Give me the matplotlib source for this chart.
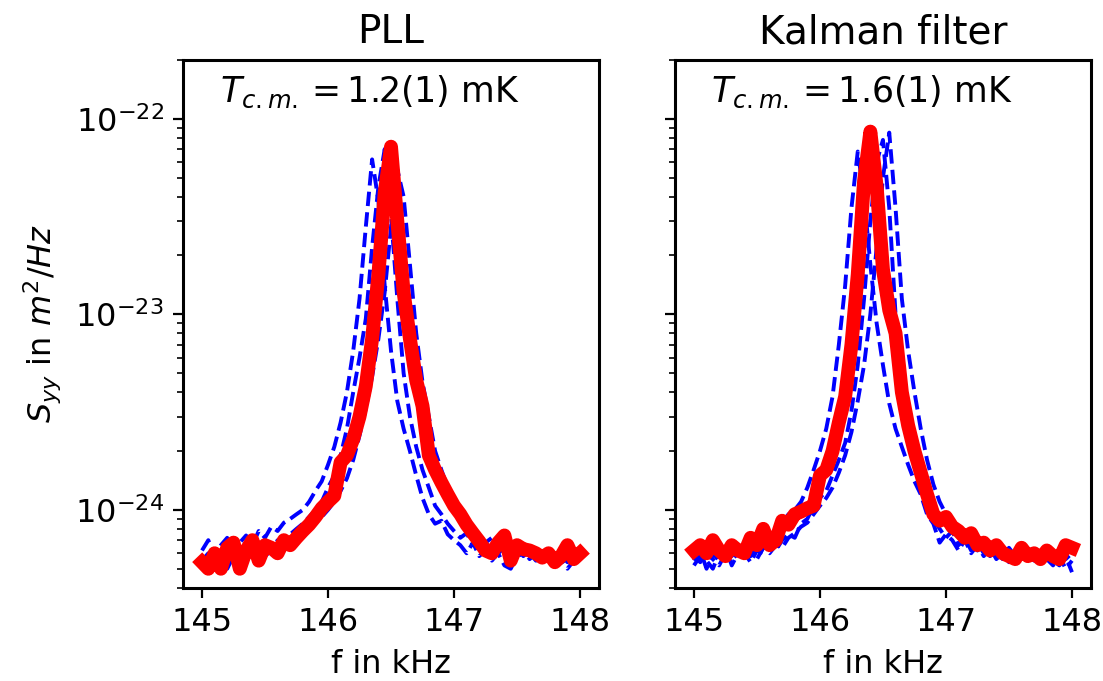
import matplotlib
matplotlib.use("Agg")
import matplotlib.pyplot as plt
import numpy as np

# frequency grid in kHz (same for every trace)
freq = np.round(np.arange(145.0, 148.001, 0.05), 2)

# spectra in units of 1e-24 m^2/Hz
# PLL panel
pll_red = [0.54, 0.50, 0.60, 0.50, 0.64, 0.68, 0.50, 0.62, 0.70, 0.55,
           0.66, 0.64, 0.60, 0.70, 0.66, 0.72, 0.78, 0.84, 0.92, 1.02,
           1.10, 1.18, 1.75, 1.90, 2.30, 3.00, 4.30, 7.50, 16.0, 42.0,
           72.0, 30.0, 13.0, 7.50, 4.60, 3.40, 1.90, 1.60, 1.38, 1.20,
           1.05, 0.95, 0.84, 0.76, 0.69, 0.62, 0.60, 0.68, 0.74, 0.55,
           0.66, 0.63, 0.62, 0.60, 0.57, 0.60, 0.54, 0.58, 0.66, 0.56,
           0.60]
pll_a = [0.62, 0.70, 0.58, 0.66, 0.72, 0.60, 0.68, 0.74, 0.66, 0.78,
         0.72, 0.82, 0.78, 0.86, 0.90, 0.95, 1.00, 1.10, 1.25, 1.40,
         1.70, 2.10, 2.80, 4.00, 6.50, 12.0, 28.0, 62.0, 38.0, 14.0,
         6.50, 3.60, 2.60, 2.00, 1.50, 1.15, 0.95, 0.85, 0.88, 0.75,
         0.70, 0.66, 0.60, 0.68, 0.58, 0.62, 0.55, 0.60, 0.52, 0.50,
         0.58, 0.62, 0.56, 0.60, 0.54, 0.58, 0.52, 0.56, 0.50, 0.55,
         0.52]
pll_b = [0.55, 0.60, 0.52, 0.58, 0.55, 0.62, 0.56, 0.60, 0.64, 0.58,
         0.66, 0.62, 0.70, 0.68, 0.75, 0.80, 0.85, 0.92, 1.00, 1.10,
         1.30, 1.50, 1.90, 2.60, 4.00, 6.00, 9.50, 22.0, 45.0, 70.0,
         32.0, 12.0, 5.00, 3.00, 2.10, 1.60, 1.30, 1.05, 0.95, 0.85,
         0.78, 0.72, 0.76, 0.66, 0.70, 0.62, 0.66, 0.60, 0.64, 0.58,
         0.62, 0.57, 0.60, 0.55, 0.60, 0.56, 0.60, 0.54, 0.58, 0.55,
         0.58]
pll_c = [0.58, 0.52, 0.60, 0.55, 0.50, 0.58, 0.62, 0.55, 0.60, 0.64,
         0.58, 0.62, 0.66, 0.62, 0.68, 0.72, 0.76, 0.80, 0.86, 0.92,
         1.00, 1.10, 1.25, 1.45, 1.80, 2.40, 3.30, 4.80, 7.50, 13.0,
         28.0, 55.0, 40.0, 18.0, 8.00, 4.50, 3.00, 2.00, 1.60, 1.30,
         1.10, 0.95, 0.85, 0.78, 0.74, 0.68, 0.72, 0.64, 0.68, 0.60,
         0.64, 0.58, 0.62, 0.57, 0.60, 0.55, 0.58, 0.60, 0.54, 0.58,
         0.55]

# Kalman panel
kal_red = [0.62, 0.66, 0.60, 0.70, 0.62, 0.58, 0.66, 0.62, 0.60, 0.72,
           0.66, 0.80, 0.66, 0.70, 0.88, 0.84, 0.95, 0.98, 1.02, 1.05,
           1.50, 1.60, 2.00, 2.80, 3.80, 7.00, 16.0, 48.0, 86.0, 45.0,
           17.0, 10.5, 8.00, 4.00, 2.70, 2.00, 1.55, 1.20, 0.95, 0.88,
           0.92, 0.82, 0.78, 0.72, 0.76, 0.66, 0.68, 0.62, 0.66, 0.60,
           0.58, 0.56, 0.64, 0.58, 0.60, 0.56, 0.62, 0.58, 0.56, 0.66,
           0.64]
kal_a = [0.55, 0.62, 0.50, 0.60, 0.55, 0.64, 0.52, 0.60, 0.66, 0.58,
         0.68, 0.72, 0.66, 0.78, 0.85, 0.95, 1.00, 1.10, 1.30, 1.60,
         2.00, 2.60, 3.80, 7.00, 14.0, 35.0, 68.0, 40.0, 18.0, 9.00,
         5.50, 3.50, 2.60, 2.10, 1.70, 1.40, 1.20, 0.95, 0.85, 0.68,
         0.75, 0.70, 0.62, 0.70, 0.60, 0.66, 0.58, 0.64, 0.56, 0.60,
         0.54, 0.62, 0.56, 0.60, 0.55, 0.60, 0.56, 0.52, 0.58, 0.50,
         0.55]
kal_b = [0.52, 0.58, 0.55, 0.50, 0.60, 0.55, 0.62, 0.56, 0.60, 0.54,
         0.62, 0.60, 0.68, 0.62, 0.70, 0.75, 0.72, 0.85, 0.90, 1.05,
         1.15, 1.25, 1.50, 1.80, 2.20, 3.20, 5.50, 12.0, 30.0, 60.0,
         78.0, 35.0, 10.0, 5.00, 3.20, 2.30, 1.50, 1.10, 0.90, 0.80,
         0.72, 0.78, 0.66, 0.72, 0.62, 0.68, 0.60, 0.66, 0.62, 0.58,
         0.64, 0.58, 0.62, 0.55, 0.60, 0.58, 0.62, 0.55, 0.60, 0.56,
         0.60]
kal_c = [0.58, 0.54, 0.62, 0.56, 0.52, 0.60, 0.58, 0.64, 0.58, 0.62,
         0.56, 0.64, 0.60, 0.66, 0.64, 0.72, 0.76, 0.82, 0.86, 0.95,
         1.05, 1.15, 1.30, 1.55, 1.90, 2.50, 3.60, 5.50, 10.0, 22.0,
         50.0, 85.0, 35.0, 12.0, 6.50, 4.00, 2.60, 1.80, 1.35, 1.10,
         0.95, 0.85, 0.80, 0.74, 0.70, 0.62, 0.66, 0.58, 0.62, 0.56,
         0.60, 0.55, 0.60, 0.56, 0.58, 0.53, 0.58, 0.55, 0.52, 0.58,
         0.48]

titles = ["PLL", "Kalman filter"]
temps = ["1.2(1)", "1.6(1)"]
unit = 1e-24

fig = plt.figure(figsize=(5.515, 3.405), dpi=200)
ax1 = fig.add_axes([0.166, 0.137, 0.377, 0.775])
ax2 = fig.add_axes([0.612, 0.137, 0.377, 0.775], sharey=ax1)

panels = [(ax1, [pll_a, pll_b, pll_c], pll_red),
          (ax2, [kal_a, kal_b, kal_c], kal_red)]

for i, (ax, blues, red) in enumerate(panels):
    for b in blues:
        ax.plot(freq, np.array(b) * unit, "b--", lw=1.4)
    ax.plot(freq, np.array(red) * unit, "r-", lw=5)
    ax.set_yscale("log")
    ax.set_ylim(4e-25, 2e-22)
    ax.set_xticks([145, 146, 147, 148])
    ax.tick_params(axis="x", labelsize=11.5)
    ax.tick_params(axis="y", labelsize=11.5)
    ax.set_xlabel("f in kHz", fontsize=11.5, labelpad=4)
    ax.set_title(titles[i], fontsize=14)
    ax.text(0.45, 0.94, r"$T_{c.m.} = $" + temps[i] + " mK",
            transform=ax.transAxes, ha="center", va="center", fontsize=12.5)
    for s in ax.spines.values():
        s.set_linewidth(1.1)

ax1.set_ylabel(r"$S_{yy}$ in $m^2/Hz$", fontsize=11.5)
plt.setp(ax2.get_yticklabels(), visible=False)

fig.savefig("out.png", dpi=200)
